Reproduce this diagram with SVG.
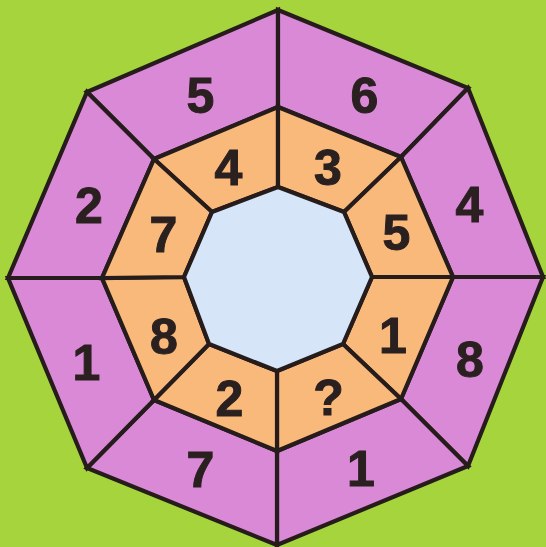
<svg xmlns="http://www.w3.org/2000/svg" width="546" height="547" viewBox="0 0 546 547">
<style>
.outer{fill:#da89d7;stroke:#261c1c;stroke-width:4.2;stroke-linejoin:miter}
.mid{fill:#f9b97a;stroke:#261c1c;stroke-width:4.2;stroke-linejoin:miter}
.core{fill:#d6e5f8;stroke:#261c1c;stroke-width:4.2;stroke-linejoin:miter}
text{font-family:"Liberation Sans",Arial,sans-serif;font-weight:bold;font-size:50px;fill:#2a2020;stroke:#2a2020;stroke-width:1;text-anchor:middle}
</style>
<rect x="0" y="0" width="546" height="547" fill="#a6d43c"/>
<g id="outer-ring">
<g id="o-top-left"><polygon class="outer" points="87,92 278,10 278,107 154,159"/><text x="200.5" y="113">5</text></g>
<g id="o-top-right"><polygon class="outer" points="278,10 468,88 401,157 278,107"/><text x="364.5" y="113">6</text></g>
<g id="o-right-top"><polygon class="outer" points="468,88 543,277 453,277 401,157"/><text x="469.5" y="222">4</text></g>
<g id="o-right-bottom"><polygon class="outer" points="543,277 468,466 401,399 453,277"/><text x="470" y="377">8</text></g>
<g id="o-bottom-right"><polygon class="outer" points="468,466 277,545 277,451 401,399"/><text x="361" y="486">1</text></g>
<g id="o-bottom-left"><polygon class="outer" points="277,545 87,468 154,400 277,451"/><text x="200.5" y="487">7</text></g>
<g id="o-left-bottom"><polygon class="outer" points="87,468 8,278 102,278 154,400"/><text x="86.5" y="380">1</text></g>
<g id="o-left-top"><polygon class="outer" points="8,278 87,92 154,159 102,278"/><text x="89" y="223">2</text></g>
</g>
<g id="middle-ring">
<g id="m-top-left"><polygon class="mid" points="154,159 278,107 278,187 212,212"/><text x="228.5" y="185">4</text></g>
<g id="m-top-right"><polygon class="mid" points="278,107 401,157 344,212 278,187"/><text x="328" y="185">3</text></g>
<g id="m-right-top"><polygon class="mid" points="401,157 453,277 372,277 344,212"/><text x="396.5" y="250">5</text></g>
<g id="m-right-bottom"><polygon class="mid" points="453,277 401,399 343,344 372,277"/><text x="393" y="353">1</text></g>
<g id="m-bottom-right"><polygon class="mid" points="401,399 277,451 277,371 343,344"/><text x="328.5" y="415">?</text></g>
<g id="m-bottom-left"><polygon class="mid" points="277,451 154,400 209,344 277,371"/><text x="229.5" y="416">2</text></g>
<g id="m-left-bottom"><polygon class="mid" points="154,400 102,278 184,277 209,344"/><text x="164" y="354">8</text></g>
<g id="m-left-top"><polygon class="mid" points="102,278 154,159 212,212 184,277"/><text x="163.5" y="252">7</text></g>
</g>
<g id="center"><polygon class="core" points="278,187 344,212 372,277 343,344 277,371 209,344 184,277 212,212"/></g>
</svg>
